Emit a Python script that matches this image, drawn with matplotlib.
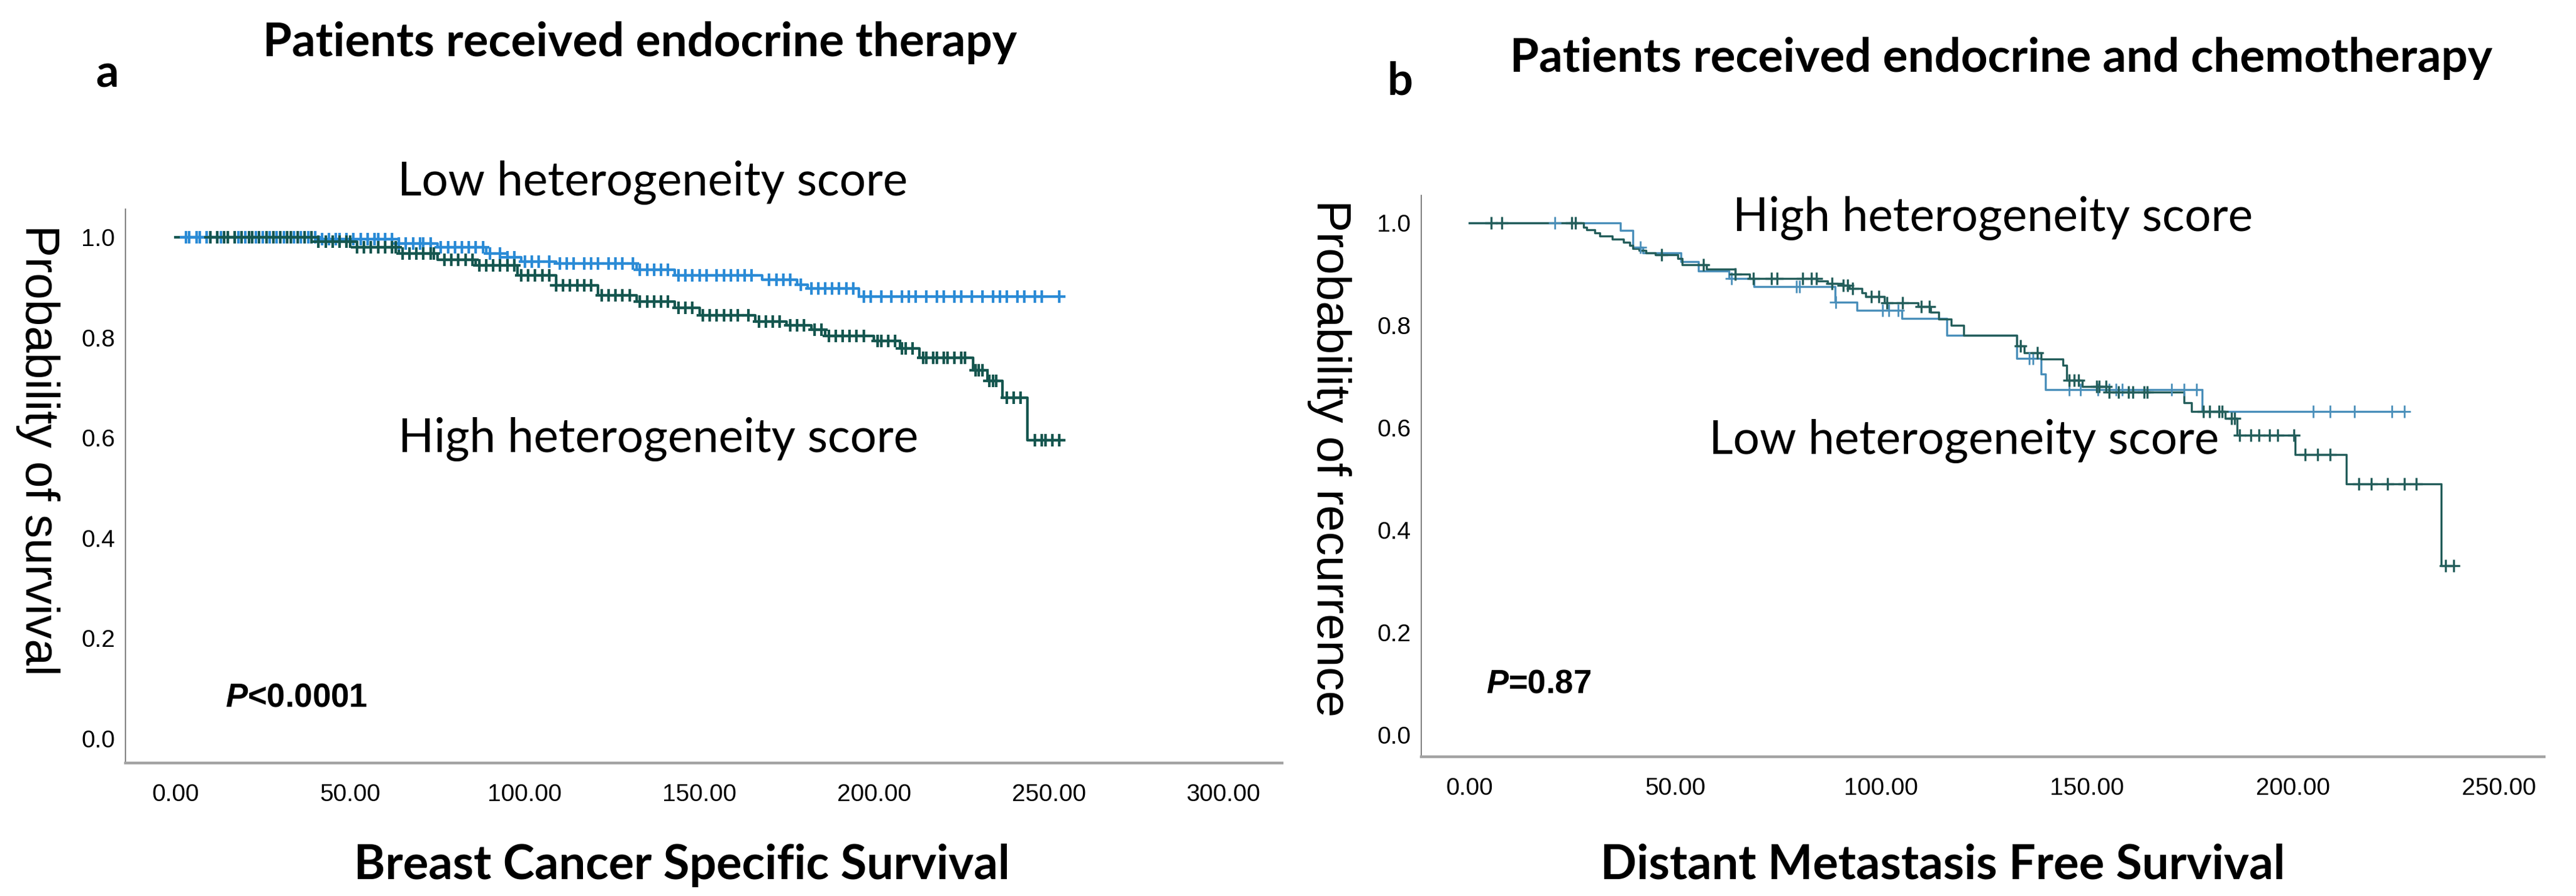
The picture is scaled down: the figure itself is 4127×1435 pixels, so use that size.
import numpy as np
import matplotlib
matplotlib.use("Agg")
from matplotlib import pyplot as plt

# ---------------- data ----------------
# panel a : breast cancer specific survival, endocrine therapy
a_low_t = [0, 41, 64, 75, 89, 95, 99, 109, 132, 143, 168, 178, 181, 195.7, 253]
a_low_s = [1.0, 0.996, 0.988, 0.98, 0.968, 0.96, 0.952, 0.948, 0.936, 0.924, 0.916, 0.905, 0.898, 0.882, 0.882]
a_high_t = [0, 41, 52, 64, 75, 86, 98, 109, 121, 132, 143, 150, 166, 175, 182, 186, 200, 207.5, 213, 228.4, 232.5, 236.8, 243.9, 254]
a_high_s = [1.0, 0.992, 0.98, 0.968, 0.956, 0.944, 0.924, 0.904, 0.884, 0.872, 0.86, 0.844, 0.832, 0.824, 0.816, 0.804, 0.794, 0.778, 0.76, 0.735, 0.714, 0.68, 0.595, 0.595]

a_low_cens = [3, 4, 6, 7, 9, 10, 12, 13, 15, 17, 18, 20, 22, 23, 25, 27, 29, 31, 33, 34, 36, 38, 40, 42,
              44, 46, 47, 49, 51, 53, 55, 57, 58, 60, 62, 64, 66, 68, 70, 71, 73, 76, 78, 80, 82, 84,
              86, 88, 90, 93, 95, 97, 100, 102, 104, 107, 110, 112, 114, 117, 119, 121, 124, 126, 128,
              131, 133, 135, 137, 139, 141, 144, 146, 148, 150, 152, 155, 157, 159, 161, 163, 165, 170,
              172, 174, 176, 179, 182, 184, 186, 188, 190, 192, 194, 197, 199, 202, 205, 208, 210, 212,
              215, 218, 220, 223, 225, 228, 231, 234, 236, 238, 241, 243, 246, 248, 253]
a_high_cens = [10, 12, 14, 15, 17, 19, 21, 22, 24, 26, 28, 30, 32, 33, 35, 37, 39, 41, 43, 45, 47, 49,
               50, 52, 54, 56, 58, 60, 62, 63, 65, 67, 69, 71, 73, 74, 77, 79, 81, 83, 85, 87, 89, 91,
               93, 95, 97, 99, 101, 103, 105, 107, 109, 111, 113, 115, 117, 119, 122, 124, 126, 128,
               130, 133, 135, 137, 139, 141, 144, 146, 148, 151, 153, 155, 157, 159, 161, 164, 167,
               169, 171, 173, 176, 178, 180, 183, 185, 187, 189, 191, 193, 195, 197, 201, 202, 204,
               206, 208, 209, 211, 214, 215, 217, 218, 220, 221, 223, 225, 226, 229, 230, 231, 233,
               234, 235, 238, 240, 242, 246, 248, 249, 251, 253]

# panel b : distant metastasis free survival, endocrine + chemotherapy
b_high_t = [0, 27.7, 28.5, 30.5, 31.6, 34.7, 37.4, 38.9, 39.7, 41.3, 42.9, 45.2, 50.6, 51.7, 57.6, 64.5, 68,
            84.5, 87, 90.8, 92.3, 95.4, 96.2, 100.8, 109, 112, 114, 117, 120, 133, 134.8, 138.8, 144.2,
            145, 148.8, 155.4, 173.5, 175.4, 183.6, 186.4, 200.6, 213, 236, 239]
b_high_s = [1.0, 0.992, 0.986, 0.98, 0.974, 0.968, 0.962, 0.956, 0.95, 0.946, 0.942, 0.938, 0.93, 0.918,
            0.91, 0.90, 0.892, 0.886, 0.882, 0.878, 0.872, 0.864, 0.856, 0.844, 0.836, 0.826, 0.812, 0.80,
            0.78, 0.76, 0.746, 0.734, 0.722, 0.693, 0.681, 0.669, 0.649, 0.632, 0.618, 0.585, 0.547,
            0.49, 0.33, 0.33]
b_low_t = [0, 36.7, 39.7, 42.1, 51.4, 55.6, 63, 69.1, 88.8, 94.2, 105, 116, 133, 138.8, 139.9, 177.9, 227]
b_low_s = [1.0, 0.985, 0.952, 0.942, 0.925, 0.906, 0.892, 0.876, 0.845, 0.829, 0.813, 0.78, 0.735, 0.705,
           0.675, 0.632, 0.632]

b_high_cens = [5.3, 7.9, 24.8, 25.8, 46.7, 56.8, 64.5, 69, 73.3, 74.8, 81, 83, 84.2, 88.1, 90.8, 91.9,
               93, 97.6, 99.5, 101.4, 105.2, 109.8, 111.7, 133.8, 138, 145.7, 146.9, 148, 152.3, 153,
               154.6, 155.4, 157.7, 160, 161.2, 163.9, 164.6, 178.2, 179.8, 182, 182.8, 185.1, 185.9,
               187, 189.8, 191.7, 194.4, 196.3, 200.2, 203, 206, 209, 216, 219, 223, 227, 230, 237, 239]
b_low_cens = [20.7, 41.6, 63.6, 79.4, 80.2, 89, 100.4, 101.9, 104.2, 136, 136.9, 145.7, 148.4, 152.7,
              155.4, 157, 158.5, 170.5, 173.5, 176.6, 205, 209, 215, 224, 227]

W, H = 4127, 1435
fig = plt.figure(figsize=(W / 100, H / 100), dpi=100)

tick_font = "Liberation Sans"
cal = "Lato"


def km(ax, t, s, cens, color, lw=2.2, ms=11, mew=2.0):
    ax.step(t, s, where="post", color=color, lw=lw, zorder=3)
    t = np.asarray(t)
    s = np.asarray(s)
    c = np.asarray(cens)
    idx = np.searchsorted(t, c, side="right") - 1
    ax.plot(c, s[idx], ls="none", marker="+", ms=ms, mew=mew, color=color, zorder=4)


def style(ax, xt):
    for sp in ["top", "right"]:
        ax.spines[sp].set_visible(False)
    ax.spines["left"].set_color("#7f7f7f")
    ax.spines["left"].set_linewidth(1.4)
    ax.spines["bottom"].set_color("#a3a3a3")
    ax.spines["bottom"].set_linewidth(3.2)
    ax.set_xticks(xt)
    ax.set_xticklabels(["%.2f" % v for v in xt], fontfamily=tick_font, fontsize=28)
    yt = [0.0, 0.2, 0.4, 0.6, 0.8, 1.0]
    ax.set_yticks(yt)
    ax.set_yticklabels(["%.1f" % v for v in yt], fontfamily=tick_font, fontsize=28)
    ax.tick_params(axis="both", length=0)
    ax.tick_params(axis="x", pad=24)
    ax.tick_params(axis="y", pad=12)


def fx(px):
    return px / W


def fy(py):
    return 1 - py / H


# ---------------- panel a ----------------
ax1 = fig.add_axes([0.0487, 0.1484, 0.449, 0.618])
km(ax1, a_low_t, a_low_s, a_low_cens, "#2b8bd6", lw=3.0, ms=15, mew=3.0)
km(ax1, a_high_t, a_high_s, a_high_cens, "#15564f", lw=3.0, ms=15, mew=3.0)
ax1.set_xlim(-14.3, 316.8)
ax1.set_ylim(-0.0486, 1.056)
style(ax1, [0, 50, 100, 150, 200, 250, 300])

# ---------------- panel b ----------------
ax2 = fig.add_axes([0.5517, 0.1554, 0.4359, 0.6265])
km(ax2, b_low_t, b_low_s, b_low_cens, "#4a8fba", lw=2.4, ms=14, mew=2.0)
km(ax2, b_high_t, b_high_s, b_high_cens, "#245e5b", lw=2.4, ms=14, mew=2.4)
ax2.set_xlim(-11.7, 261)
ax2.set_ylim(-0.0427, 1.0537)
style(ax2, [0, 50, 100, 150, 200, 250])

# ---------------- texts ----------------
plt.rcParams["mathtext.fontset"] = "custom"
plt.rcParams["mathtext.it"] = "Liberation Sans:italic:bold"

fig.text(fx(172), fy(140), "a", family=cal, weight="bold", fontsize=52, ha="center", va="baseline")
fig.text(fx(2243), fy(152), "b", family=cal, weight="bold", fontsize=52, ha="center", va="baseline")
fig.text(fx(1025), fy(90), "Patients received endocrine therapy", family=cal, weight="bold",
         fontsize=54, ha="center", va="baseline")
fig.text(fx(3206), fy(115), "Patients received endocrine and chemotherapy", family=cal, weight="bold",
         fontsize=54, ha="center", va="baseline")

fig.text(fx(1046), fy(313), "Low heterogeneity score", family=cal, fontsize=54, ha="center", va="baseline")
fig.text(fx(1055), fy(724), "High heterogeneity score", family=cal, fontsize=54, ha="center", va="baseline")
fig.text(fx(3193), fy(370), "High heterogeneity score", family=cal, fontsize=54, ha="center", va="baseline")
fig.text(fx(3147), fy(727), "Low heterogeneity score", family=cal, fontsize=54, ha="center", va="baseline")

fig.text(fx(361), fy(1132), r"$P$<0.0001", family=tick_font, weight="bold", fontsize=38, ha="left", va="baseline")
fig.text(fx(2381), fy(1110), r"$P$=0.87", family=tick_font, weight="bold", fontsize=38, ha="left", va="baseline")

fig.text(fx(1092), fy(1408), "Breast Cancer Specific Survival", family=cal, weight="bold",
         fontsize=55, ha="center", va="baseline")
fig.text(fx(3113), fy(1408), "Distant Metastasis Free Survival", family=cal, weight="bold",
         fontsize=55, ha="center", va="baseline")

fig.text(fx(60), fy(721), "Probability of survival", family=tick_font, fontsize=55, rotation=270,
         ha="center", va="center")
fig.text(fx(2130), fy(734), "Probability of recurrence", family=tick_font, fontsize=55, rotation=270,
         ha="center", va="center")

fig.savefig("out.png", dpi=100, facecolor="white")
